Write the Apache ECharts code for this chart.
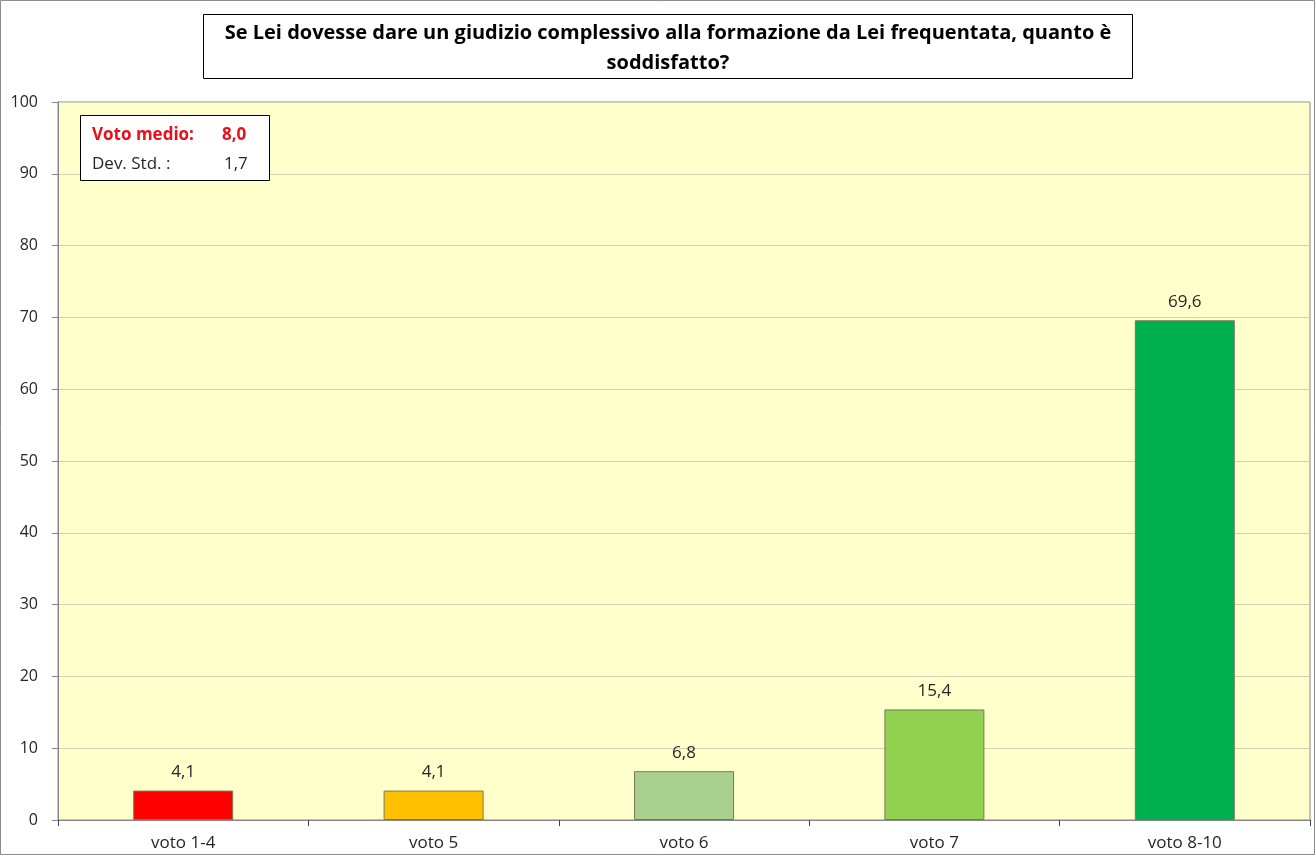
<!DOCTYPE html>
<html>
<head>
<meta charset="utf-8">
<script src="https://cdn.jsdelivr.net/npm/echarts@6/dist/echarts.min.js"></script>
<style>
  html, body { margin: 0; padding: 0; background: #fff; }
  #chart { width: 1316px; height: 856px; }
</style>
</head>
<body>
<div id="chart"></div>
<script>
var categories = ['voto 1-4', 'voto 5', 'voto 6', 'voto 7', 'voto 8-10'];
var values = [4.1, 4.1, 6.8, 15.4, 69.6];
var barColors = ['#FF0000', '#FFC000', '#A9D18E', '#92D050', '#00B050'];
var yTicks = [0, 10, 20, 30, 40, 50, 60, 70, 80, 90, 100];
var titleLines = ['Se Lei dovesse dare un giudizio complessivo alla formazione da Lei frequentata, quanto è', 'soddisfatto?'];
var votoMedio = '8,0';
var devStd = '1,7';

var font = '"Open Sans", "Liberation Sans", Arial, sans-serif';
var myChart = echarts.init(document.getElementById('chart'));

var tStyle = { fontFamily: font, fontSize: 20, fontWeight: 'bold', color: '#000000', lineHeight: 30, width: 906, align: 'center' };

var option = {
    backgroundColor: '#ffffff',
    animation: false,
    textStyle: { fontFamily: font },
    title: [{
        text: titleLines.map(function (l) { return '{t|' + l + '}'; }).join('\n'),
        left: 203,
        top: 14,
        padding: [4, 12, 1, 12],
        borderColor: '#000000',
        borderWidth: 1,
        backgroundColor: '#ffffff',
        textStyle: { fontSize: 20, lineHeight: 30, rich: { t: tStyle } }
    }, {
        text: '{r|Voto medio:}{rv|' + votoMedio + '}\n{k|Dev. Std. :}{kv|' + devStd + '}',
        left: 80,
        top: 115,
        padding: [6, 22, 2, 12],
        borderColor: '#000000',
        borderWidth: 1,
        backgroundColor: '#ffffff',
        textStyle: {
            fontSize: 17,
            lineHeight: 29,
            rich: {
                r: { fontFamily: font, fontSize: 17, fontWeight: 'bold', color: '#E8101A', width: 130, lineHeight: 29 },
                rv: { fontFamily: font, fontSize: 17, fontWeight: 'bold', color: '#E8101A', lineHeight: 29 },
                k: { fontFamily: font, fontSize: 17, fontWeight: 'normal', color: '#262626', width: 132, lineHeight: 29 },
                kv: { fontFamily: font, fontSize: 17, fontWeight: 'normal', color: '#262626', lineHeight: 29 }
            }
        }
    }],
    graphic: [{
        type: 'rect',
        shape: { x: 0.5, y: 0.5, width: 1314, height: 854 },
        style: { fill: 'none', stroke: '#8c8c8c', lineWidth: 1 },
        silent: true
    }],
    grid: {
        left: 58,
        right: 6,
        top: 102,
        bottom: 36,
        show: true,
        backgroundColor: '#FFFFCC',
        borderColor: '#868686',
        borderWidth: 1
    },
    xAxis: {
        type: 'category',
        data: categories,
        axisLine: { lineStyle: { color: '#868686' } },
        axisTick: { show: true, length: 6, lineStyle: { color: '#404040' } },
        axisLabel: { color: '#262626', fontSize: 17, margin: 15, fontFamily: font }
    },
    yAxis: {
        type: 'value',
        min: 0,
        max: 100,
        interval: 10,
        axisLine: { show: true, lineStyle: { color: '#868686' } },
        axisTick: { show: true, length: 6, lineStyle: { color: '#868686' } },
        axisLabel: {
            color: '#262626', fontSize: 16, margin: 20, fontFamily: font,
            formatter: function (v) { return yTicks.indexOf(v) >= 0 ? String(v) : ''; }
        },
        splitLine: { show: true, lineStyle: { color: '#D4D0B0', width: 1 } }
    },
    series: [{
        type: 'bar',
        barWidth: 100,
        data: values.map(function (v, i) {
            return {
                value: v,
                itemStyle: { color: barColors[i], borderColor: '#7a7a5a', borderWidth: 1 }
            };
        }),
        label: {
            show: true,
            position: 'top',
            distance: 10,
            color: '#262626',
            fontSize: 17,
            fontFamily: font,
            formatter: function (p) { return p.value.toFixed(1).replace('.', ','); }
        }
    }]
};
myChart.setOption(option);
</script>
</body>
</html>
